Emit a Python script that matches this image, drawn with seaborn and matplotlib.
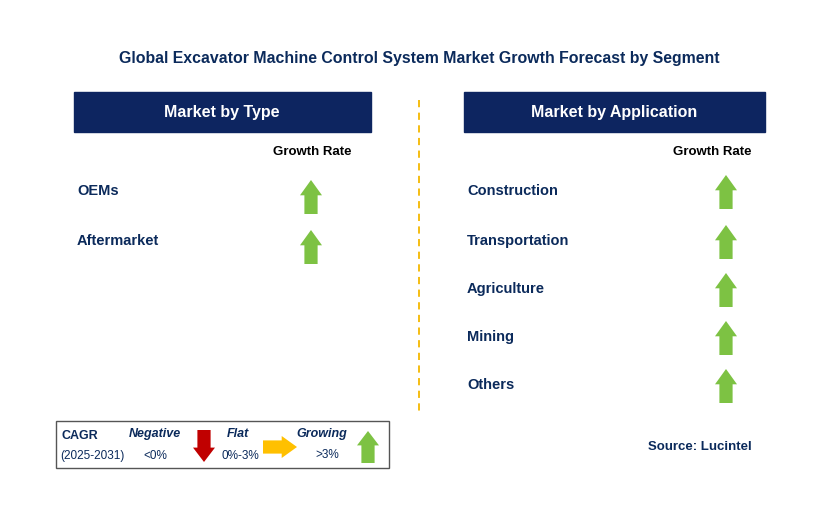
import matplotlib
matplotlib.use("Agg")
import matplotlib.pyplot as plt
import seaborn as sns
import pandas as pd
from matplotlib.patches import Polygon, Rectangle

sns.set_theme(style="white", font="Liberation Sans")

title = "Global Excavator Machine Control System Market Growth Forecast by Segment"
type_segments = ["OEMs", "Aftermarket"]
type_growth = ["Growing", "Growing"]
app_segments = ["Construction", "Transportation", "Agriculture", "Mining", "Others"]
app_growth = ["Growing", "Growing", "Growing", "Growing", "Growing"]

NAVY = "#0b2a5b"
BAR = "#0d2560"
GREEN = "#7dc243"
RED = "#c00000"
YELLOW = "#ffc000"

fig = plt.figure(figsize=(8.29, 5.16), dpi=100)
ax = fig.add_axes([0, 0, 1, 1])
ax.set_xlim(0, 829)
ax.set_ylim(516, 0)
ax.axis("off")

def arrow(cx, cy, color, direction="up", w=22, h=34):
    hw = w / 2; sw = w * 0.3; hh = h * 0.45
    if direction == "up":
        pts = [(cx, cy - h/2), (cx + hw, cy - h/2 + hh), (cx + sw, cy - h/2 + hh),
               (cx + sw, cy + h/2), (cx - sw, cy + h/2), (cx - sw, cy - h/2 + hh), (cx - hw, cy - h/2 + hh)]
    elif direction == "down":
        pts = [(cx, cy + h/2), (cx + hw, cy + h/2 - hh), (cx + sw, cy + h/2 - hh),
               (cx + sw, cy - h/2), (cx - sw, cy - h/2), (cx - sw, cy + h/2 - hh), (cx - hw, cy + h/2 - hh)]
    else:  # right
        pts = [(cx + h/2, cy), (cx + h/2 - hh, cy + hw), (cx + h/2 - hh, cy + sw),
               (cx - h/2, cy + sw), (cx - h/2, cy - sw), (cx + h/2 - hh, cy - sw), (cx + h/2 - hh, cy - hw)]
    ax.add_patch(Polygon(pts, closed=True, color=color, lw=0))

ax.text(419, 58, title, ha="center", va="center", fontsize=11.4, fontweight="bold", color=NAVY)

ax.add_patch(Rectangle((74, 92), 297, 40, color=BAR))
ax.text(222, 112, "Market by Type", ha="center", va="center", fontsize=11.5, fontweight="bold", color="white")
ax.add_patch(Rectangle((464, 92), 301, 40, color=BAR))
ax.text(614, 112, "Market by Application", ha="center", va="center", fontsize=11.5, fontweight="bold", color="white")

ax.text(312, 152, "Growth Rate", ha="center", va="center", fontsize=9.5, fontweight="bold", color="black")
ax.text(712, 152, "Growth Rate", ha="center", va="center", fontsize=9.5, fontweight="bold", color="black")

ax.plot([419, 419], [100, 412], ls=(0, (4, 3)), color="#f5b800", lw=1.3)

dfa = pd.DataFrame({"seg": type_segments, "g": type_growth})
dfa["y"] = 191 + 50 * dfa.index
for _, r in dfa.iterrows():
    ax.text(77, r.y, r.seg, ha="left", va="center", fontsize=10.5, fontweight="bold", color=NAVY)
    arrow(311, r.y + 6, GREEN)

dfb = pd.DataFrame({"seg": app_segments, "g": app_growth})
ys = [191, 241, 289, 337, 385]
for (_, r), y in zip(dfb.iterrows(), ys):
    ax.text(467, y, r.seg, ha="left", va="center", fontsize=10.5, fontweight="bold", color=NAVY)
    arrow(726, y + 1, GREEN)

ax.add_patch(Rectangle((56, 421), 333, 47, fill=False, ec="#555555", lw=1))
ax.text(62, 436, "CAGR", fontsize=9, fontweight="bold", color=NAVY, va="center")
ax.text(60, 456, "(2025-2031)", fontsize=8.5, color=NAVY, va="center")
ax.text(155, 434, "Negative", fontsize=9, fontweight="bold", style="italic", color=NAVY, va="center", ha="center")
ax.text(155, 456, "<0%", fontsize=8.5, color=NAVY, va="center", ha="center")
arrow(204, 446, RED, "down", w=22, h=32)
ax.text(238, 434, "Flat", fontsize=9, fontweight="bold", style="italic", color=NAVY, va="center", ha="center")
ax.text(240, 456, "0%-3%", fontsize=8.5, color=NAVY, va="center", ha="center")
arrow(280, 447, YELLOW, "right", w=22, h=34)
ax.text(322, 434, "Growing", fontsize=9, fontweight="bold", style="italic", color=NAVY, va="center", ha="center")
ax.text(327, 455, ">3%", fontsize=8.5, color=NAVY, va="center", ha="center")
arrow(368, 447, GREEN, "up", w=22, h=32)

ax.text(700, 447, "Source: Lucintel", ha="center", va="center", fontsize=9.5, fontweight="bold", color=NAVY)

fig.savefig("out.png", dpi=100)
